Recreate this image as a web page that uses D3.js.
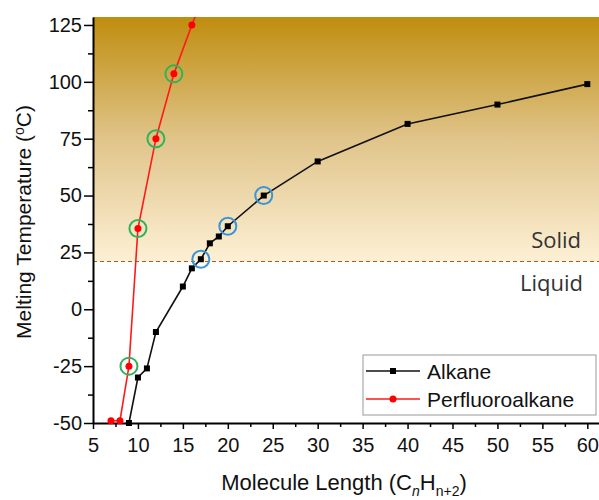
<!DOCTYPE html>
<html>
<head>
<meta charset="utf-8">
<script src="https://cdn.jsdelivr.net/npm/d3@7"></script>
<style>
  body { margin: 0; background: #fff; }
  svg text { font-family: Arial, "Liberation Sans", sans-serif; }
</style>
</head>
<body>
<div id="chart"></div>
<script>
// carbon number n and melting points (deg C)
var alkaneN = [9, 10, 11, 12, 15, 16, 17, 18, 19, 20, 24, 30, 40, 50, 60];
var alkaneT = [-50, -30, -26, -10, 10, 18, 22, 29, 32, 36.5, 50, 65, 81.5, 90, 99];
var pfaN = [7, 8, 9, 10, 12, 14, 16, 20];
var pfaT = [-49, -49, -25, 35.5, 75, 103.5, 125, 165];
// highlighted points
var greenRings = [9, 10, 12, 14];
var blueRings = [17, 20, 24];
var xTicks = [5, 10, 15, 20, 25, 30, 35, 40, 45, 50, 55, 60];
var yTicks = [-50, -25, 0, 25, 50, 75, 100, 125];
var roomTemp = 21;

var width = 599, height = 500;
var svg = d3.select("#chart").append("svg")
    .attr("width", width).attr("height", height);

var x = d3.scaleLinear().domain([5, 61.3]).range([93, 599]);
var y = d3.scaleLinear().domain([-50, 128.5]).range([423, 17]);

var defs = svg.append("defs");
var grad = defs.append("linearGradient")
    .attr("id", "solidGrad")
    .attr("gradientUnits", "userSpaceOnUse")
    .attr("x1", 0).attr("y1", y(128.5)).attr("x2", 0).attr("y2", y(roomTemp));
grad.append("stop").attr("offset", 0).attr("stop-color", "#bf8d0e");
grad.append("stop").attr("offset", 0.5).attr("stop-color", "#e0c48a");
grad.append("stop").attr("offset", 1).attr("stop-color", "#fdf0d4");

defs.append("clipPath").attr("id", "plotClip")
    .append("rect")
    .attr("x", x(5)).attr("y", y(128.5))
    .attr("width", x(61.3) - x(5)).attr("height", y(-50) - y(128.5) + 6);

// solid region background
svg.append("rect")
    .attr("x", x(5)).attr("y", y(128.5))
    .attr("width", x(61.3) - x(5))
    .attr("height", y(roomTemp) - y(128.5))
    .attr("fill", "url(#solidGrad)");

svg.append("line")
    .attr("x1", x(5)).attr("x2", x(61.3))
    .attr("y1", y(roomTemp)).attr("y2", y(roomTemp))
    .attr("stroke", "#b0582a").attr("stroke-width", 1.2)
    .attr("stroke-dasharray", "4,3");

svg.append("text").attr("x", 581).attr("y", 248)
    .attr("text-anchor", "end")
    .style("font-family", "'Open Sans', sans-serif")
    .style("font-size", "22px").attr("fill", "#333")
    .text("Solid");
svg.append("text").attr("x", 583).attr("y", 291)
    .attr("text-anchor", "end")
    .style("font-family", "'Open Sans', sans-serif")
    .style("font-size", "22px").attr("fill", "#333")
    .text("Liquid");

// axes
var plain = function (d) { return String(d); };
var yMinor = d3.range(-37.5, 128, 25);
svg.append("g").attr("transform", "translate(" + x(5) + ",0)")
    .call(d3.axisLeft(y).tickValues(yMinor).tickSize(5).tickFormat(""))
    .call(function (g) { g.select(".domain").remove(); })
    .selectAll("line").attr("stroke-width", 1.5);
var yAxis = svg.append("g").attr("transform", "translate(" + x(5) + ",0)")
    .call(d3.axisLeft(y).tickValues(yTicks).tickFormat(plain).tickSize(9).tickPadding(2).tickSizeOuter(0));
yAxis.select(".domain").attr("stroke-width", 2);
yAxis.selectAll("line").attr("stroke-width", 1.5);
yAxis.selectAll("text").style("font-size", "20px").attr("fill", "#111");

var xMinor = d3.range(7.5, 61, 5);
svg.append("g").attr("transform", "translate(0," + y(-50) + ")")
    .call(d3.axisBottom(x).tickValues(xMinor).tickSize(4).tickFormat(""))
    .call(function (g) { g.select(".domain").remove(); })
    .selectAll("line").attr("stroke-width", 1.5);
var xAxis = svg.append("g").attr("transform", "translate(0," + y(-50) + ")")
    .call(d3.axisBottom(x).tickValues(xTicks).tickFormat(plain).tickSize(6).tickPadding(9).tickSizeOuter(0));
xAxis.select(".domain").attr("stroke-width", 2);
xAxis.selectAll("line").attr("stroke-width", 1.5);
xAxis.selectAll("text").style("font-size", "20px").attr("fill", "#111");

// axis titles
svg.append("text")
    .attr("transform", "translate(31," + 222 + ") rotate(-90)")
    .attr("text-anchor", "middle")
    .style("font-size", "21px").attr("fill", "#111")
    .html("Melting Temperature (<tspan dy='-7' font-size='14px'>o</tspan><tspan dy='7'>C)</tspan>");

svg.append("text")
    .attr("x", 344).attr("y", 490)
    .attr("text-anchor", "middle")
    .style("font-size", "22px").attr("fill", "#111")
    .html("Molecule Length (C<tspan dy='6' font-size='14px' font-style='italic'>n</tspan><tspan dy='-6'>H</tspan><tspan dy='6' font-size='14px'>n+2</tspan><tspan dy='-6'>)</tspan>");

// data
var alkane = alkaneN.map(function (n, i) { return { n: n, t: alkaneT[i] }; });
var pfa = pfaN.map(function (n, i) { return { n: n, t: pfaT[i] }; });

var line = d3.line()
    .x(function (d) { return x(d.n); })
    .y(function (d) { return y(d.t); });

var plot = svg.append("g").attr("clip-path", "url(#plotClip)");

plot.append("path").datum(alkane)
    .attr("fill", "none").attr("stroke", "#111").attr("stroke-width", 1.6)
    .attr("d", line);
plot.selectAll(".sq").data(alkane).enter().append("rect")
    .attr("class", "sq")
    .attr("x", function (d) { return x(d.n) - 3; })
    .attr("y", function (d) { return y(d.t) - 3; })
    .attr("width", 6).attr("height", 6)
    .attr("fill", "#000");

plot.append("path").datum(pfa)
    .attr("fill", "none").attr("stroke", "#ff1a1a").attr("stroke-width", 1.6)
    .attr("d", line);
plot.selectAll(".dot").data(pfa).enter().append("circle")
    .attr("class", "dot")
    .attr("cx", function (d) { return x(d.n); })
    .attr("cy", function (d) { return y(d.t); })
    .attr("r", 3.5)
    .attr("fill", "#ff0000");

// rings around highlighted points
plot.selectAll(".gring").data(pfa.filter(function (d) { return greenRings.indexOf(d.n) >= 0; }))
    .enter().append("circle")
    .attr("class", "gring")
    .attr("cx", function (d) { return x(d.n); })
    .attr("cy", function (d) { return y(d.t); })
    .attr("r", 8.5)
    .attr("fill", "none").attr("stroke", "#2fb35a").attr("stroke-width", 2);

plot.selectAll(".bring").data(alkane.filter(function (d) { return blueRings.indexOf(d.n) >= 0; }))
    .enter().append("circle")
    .attr("class", "bring")
    .attr("cx", function (d) { return x(d.n); })
    .attr("cy", function (d) { return y(d.t); })
    .attr("r", 8.5)
    .attr("fill", "none").attr("stroke", "#3a96d6").attr("stroke-width", 2);

// legend
var legend = svg.append("g");
legend.append("rect")
    .attr("x", 363).attr("y", 355).attr("width", 233).attr("height", 60)
    .attr("fill", "#fff").attr("stroke", "#999").attr("stroke-width", 1);
var items = [
    { name: "Alkane", color: "#111", shape: "square" },
    { name: "Perfluoroalkane", color: "#ff1a1a", shape: "circle" }
];
items.forEach(function (it, i) {
    var ly = 371 + i * 28;
    legend.append("line")
        .attr("x1", 366).attr("x2", 420).attr("y1", ly).attr("y2", ly)
        .attr("stroke", it.color).attr("stroke-width", 1.4);
    if (it.shape === "square") {
        legend.append("rect").attr("x", 390).attr("y", ly - 3)
            .attr("width", 6).attr("height", 6).attr("fill", "#000");
    } else {
        legend.append("circle").attr("cx", 393).attr("cy", ly).attr("r", 3.5)
            .attr("fill", "#ff0000");
    }
    legend.append("text").attr("x", 427).attr("y", ly + 7.5)
        .style("font-size", "21px").attr("fill", "#111")
        .text(it.name);
});
</script>
</body>
</html>
